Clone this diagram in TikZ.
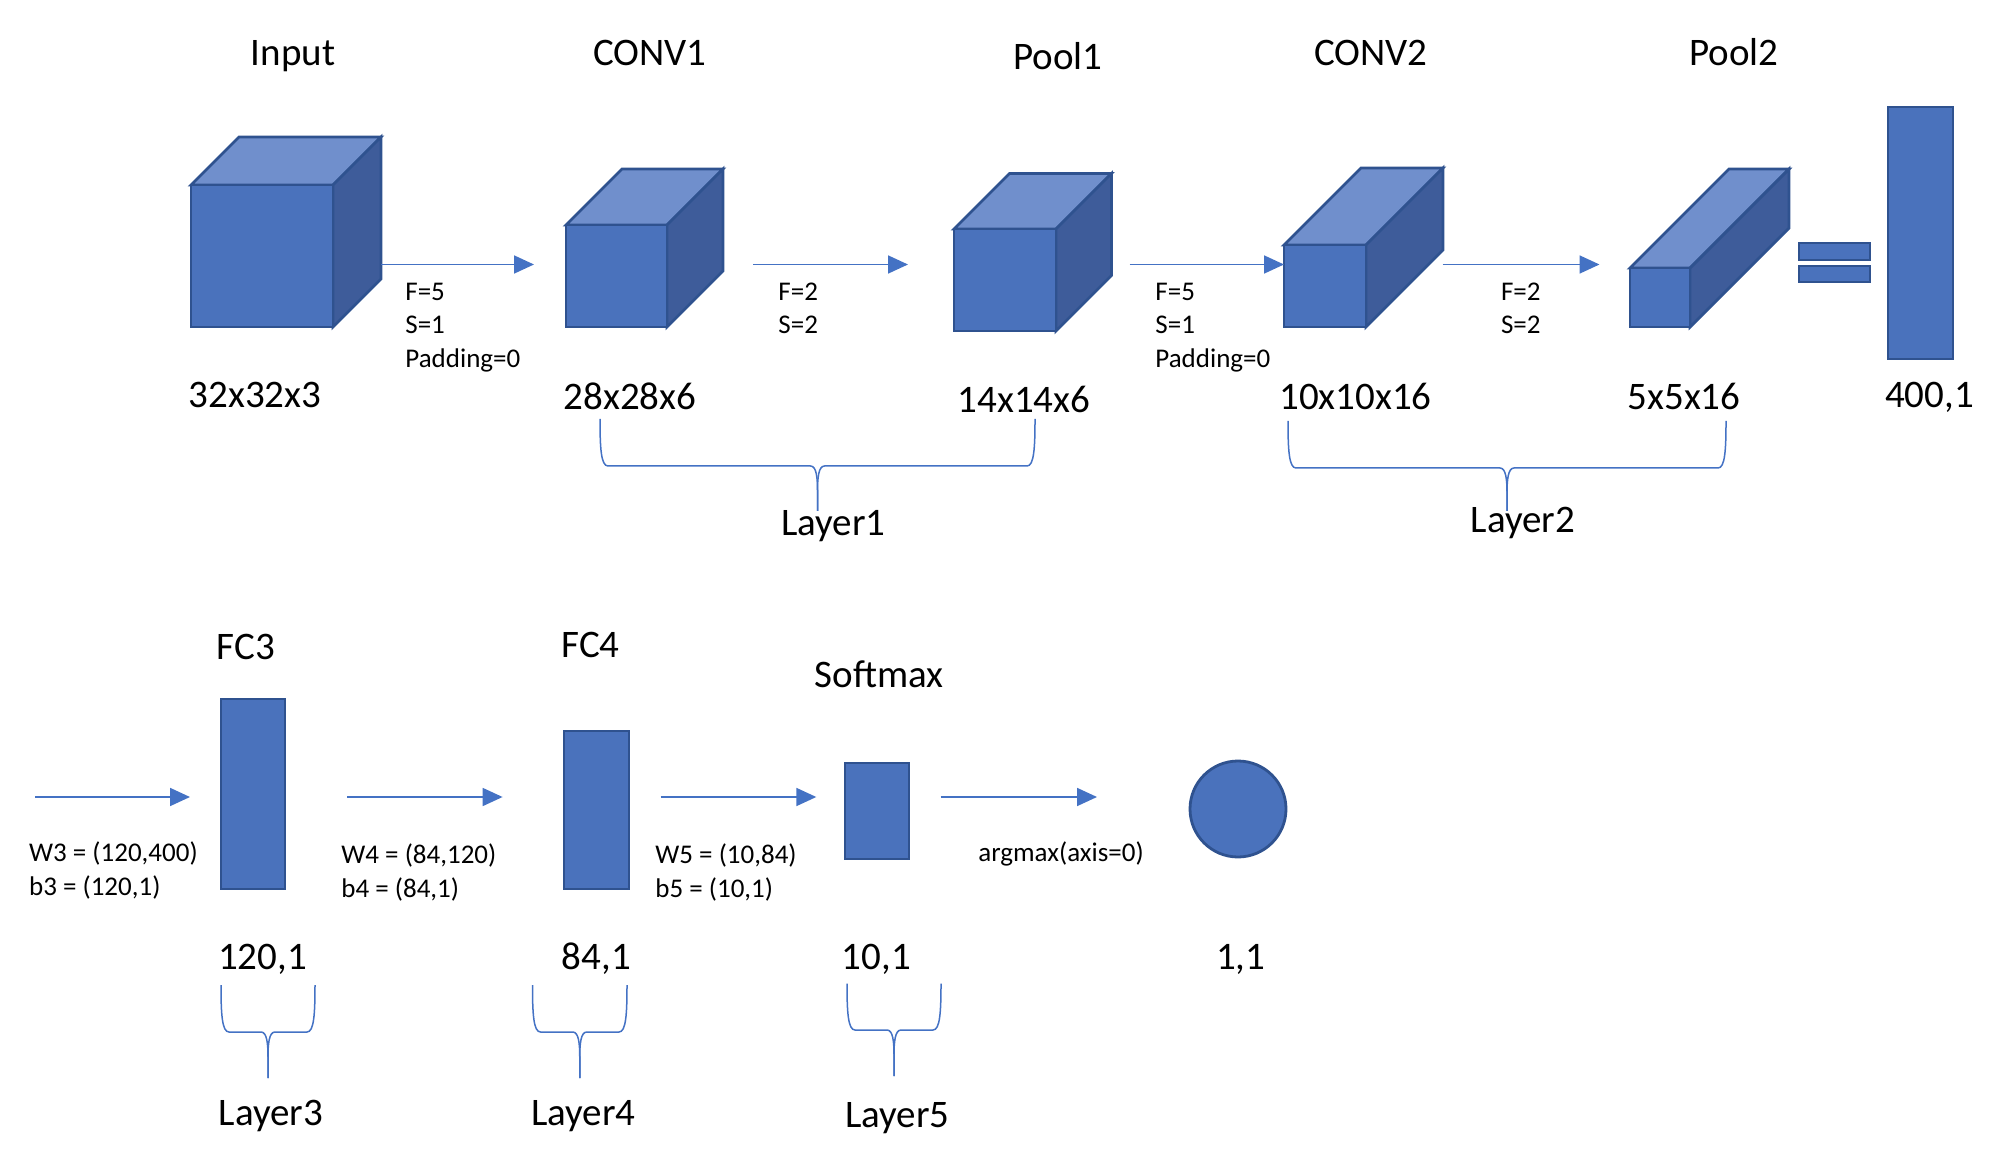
\documentclass[tikz,border=0pt]{standalone}
\usepackage{fontspec}
\setmainfont{Carlito}
\usetikzlibrary{arrows.meta}
\definecolor{lineblue}{RGB}{68,114,196}
\definecolor{frontc}{RGB}{74,114,188}
\definecolor{topc}{RGB}{112,143,204}
\definecolor{sidec}{RGB}{62,92,154}
\definecolor{edgec}{RGB}{47,82,143}
\tikzset{
  big/.style={font=\fontsize{19.5}{23}\selectfont, inner sep=0pt, anchor=base},
  small/.style={font=\fontsize{13.5}{16}\selectfont, inner sep=0pt, anchor=base west},
  boxfront/.style={draw=edgec, fill=frontc, line width=1.4pt, inner sep=0pt, outer sep=0pt, anchor=north west},
  arr/.style={draw=lineblue, line width=0.9pt, -{Triangle[length=10pt,width=9pt]}},
  bracec/.style={draw=lineblue, line width=0.75pt},
  cubetop/.style={fill=topc, draw=edgec, line width=1.4pt, line join=miter},
  cubeside/.style={fill=sidec, draw=edgec, line width=1.4pt, line join=miter},
}
% name, x, y (top-left of front face), w, h, depth
\newcommand{\mycube}[6]{%
  \filldraw[cubetop] (#2,#3) -- ++(#6,-#6) -- ++(#4,0) -- ++(-#6,#6) -- cycle;
  \filldraw[cubeside] (#2+#4,#3) -- ++(#6,-#6) -- ++(0,#5) -- ++(-#6,#6) -- cycle;
  \node[boxfront, minimum width=#4*0.5pt, minimum height=#5*0.5pt] (#1) at (#2,#3) {};
}
% x1, x2, top, h, tip
\newcommand{\mybrace}[5]{%
  \pgfmathsetmacro\bxc{(#1+#2)/2}
  \draw[bracec] (#1,#3) .. controls (#1,#4-18) and (#1+1,#4) .. (#1+8,#4) -- (\bxc-7,#4) .. controls (\bxc-1,#4) and (\bxc,#4+12) .. (\bxc,#4+25) -- (\bxc,#5);
  \draw[bracec] (#2,#3) .. controls (#2,#4-18) and (#2-1,#4) .. (#2-8,#4) -- (\bxc+7,#4) .. controls (\bxc+1,#4) and (\bxc,#4+12) .. (\bxc,#4+25) -- (\bxc,#5);
}
\begin{document}
\begin{tikzpicture}[x=0.5pt,y=-0.5pt]
\useasboundingbox (0,0) rectangle (1996,1170);

% ---------- row 1 ----------
\mycube{input}{191}{185}{142}{142}{48}
\mycube{conv1}{566}{225}{101}{102}{56}
\mycube{pool1}{954}{229}{102}{102}{55.5}
\mycube{conv2}{1284}{245}{82}{82}{77}
\mycube{pool2}{1630}{268}{60}{59}{99}

\node[boxfront, minimum width=35.5pt, minimum height=8.5pt] (eq1) at (1799,243) {};
\node[boxfront, minimum width=35.5pt, minimum height=8pt] (eq2) at (1799,266) {};
\node[boxfront, minimum width=32.5pt, minimum height=126pt] (flat) at (1888,107) {};

\node[big] (tInput) at (293,66) {Input};
\node[big] (tConv1) at (650,66) {CONV1};
\node[big] (tPool1) at (1058,70) {Pool1};
\node[big] (tConv2) at (1371,66) {CONV2};
\node[big] (tPool2) at (1734,66) {Pool2};

\node[big] (dInput) at (255,407.6) {32x32x3};
\node[big] (dConv1) at (630,409.5) {28x28x6};
\node[big] (dPool1) at (1024,413) {14x14x6};
\node[big] (dConv2) at (1355.5,409.5) {10x10x16};
\node[big] (dPool2) at (1684,409.5) {5x5x16};
\node[big] (dFlat) at (1929.5,407.6) {400,1};

\coordinate (a1s) at (381,264.5);  \coordinate (a1e) at (534,264.5);
\coordinate (a2s) at (753,264.5);  \coordinate (a2e) at (908,264.5);
\coordinate (a3s) at (1129.5,264.5); \coordinate (a3e) at (1284,264.5);
\coordinate (a4s) at (1442.6,264.5); \coordinate (a4e) at (1599.5,264.5);
\draw[arr] (a1s) -- (a1e);
\draw[arr] (a2s) -- (a2e);
\draw[arr] (a3s) -- (a3e);
\draw[arr] (a4s) -- (a4e);

\node[small] (l1a) at (405,300.4) {F=5};
\node[small] (l1b) at (405,333.7) {S=1};
\node[small] (l1c) at (405,368) {Padding=0};
\node[small] (l2a) at (778,300.4) {F=2};
\node[small] (l2b) at (778,333.7) {S=2};
\node[small] (l3a) at (1155,300.4) {F=5};
\node[small] (l3b) at (1155,333.7) {S=1};
\node[small] (l3c) at (1155,368) {Padding=0};
\node[small] (l4a) at (1500.6,300.4) {F=2};
\node[small] (l4b) at (1500.6,333.7) {S=2};

\mybrace{600}{1035}{419}{466}{511}
\mybrace{1288}{1726}{421}{468}{511}
\node[big] (layer1) at (833.5,535.8) {Layer1};
\node[big] (layer2) at (1523,532.7) {Layer2};

% ---------- row 2 ----------
\node[boxfront, minimum width=32pt, minimum height=95pt] (fc3) at (221,699) {};
\node[boxfront, minimum width=32.5pt, minimum height=79pt] (fc4) at (564,731) {};
\node[boxfront, minimum width=32pt, minimum height=48pt] (soft) at (845,763) {};
\node[draw=edgec, fill=frontc, line width=1.4pt, circle, inner sep=0pt, minimum size=48pt] (out) at (1238,809) {};

\node[big] (tFc3) at (246,659) {FC3};
\node[big] (tFc4) at (590.6,657) {FC4};
\node[big] (tSoft) at (879,687.2) {Softmax};

\coordinate (b1s) at (35,797);    \coordinate (b1e) at (190,797);
\coordinate (b2s) at (347,797);   \coordinate (b2e) at (502.6,797);
\coordinate (b3s) at (660.7,797); \coordinate (b3e) at (816.3,797);
\coordinate (b4s) at (940.7,797); \coordinate (b4e) at (1097,797);
\draw[arr] (b1s) -- (b1e);
\draw[arr] (b2s) -- (b2e);
\draw[arr] (b3s) -- (b3e);
\draw[arr] (b4s) -- (b4e);

\node[small] (w3) at (28.7,861.7) {W3 = (120,400)};
\node[small] (bb3) at (28.7,895.2) {b3 = (120,1)};
\node[small] (w4) at (341,863.5) {W4 = (84,120)};
\node[small] (bb4) at (341,897.3) {b4 = (84,1)};
\node[small] (w5) at (655,863.5) {W5 = (10,84)};
\node[small] (bb5) at (655,897.3) {b5 = (10,1)};
\node[small] (am) at (978,861) {argmax(axis=0)};

\node[big] (dFc3) at (262.4,969) {120,1};
\node[big] (dFc4) at (596.3,969) {84,1};
\node[big] (dSoft) at (876.3,969) {10,1};
\node[big] (dOut) at (1240.8,969) {1,1};

\mybrace{221}{315}{985}{1032}{1078}
\mybrace{532.5}{627}{985}{1032}{1078}
\mybrace{847}{941}{983.5}{1030}{1076}
\node[big] (layer3) at (271,1125.3) {Layer3};
\node[big] (layer4) at (583.5,1125.3) {Layer4};
\node[big] (layer5) at (897.3,1127) {Layer5};
\end{tikzpicture}
\end{document}
